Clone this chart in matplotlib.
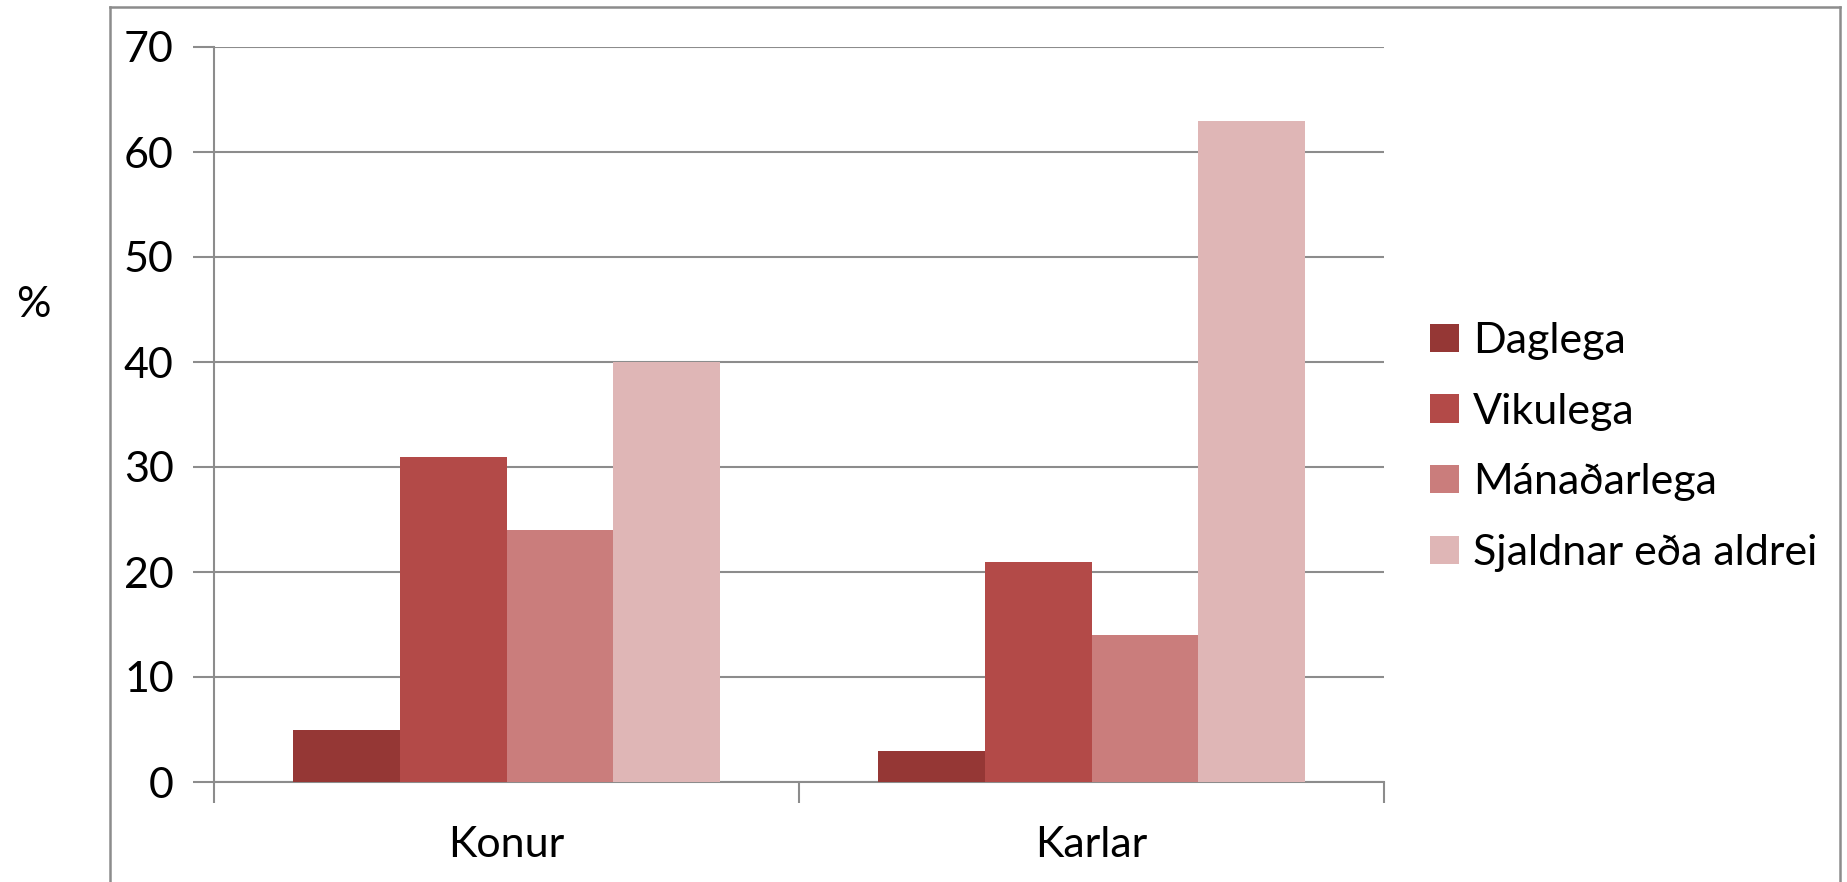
import matplotlib
matplotlib.use("Agg")
import matplotlib.pyplot as plt
from matplotlib.patches import Patch
from matplotlib.lines import Line2D
import numpy as np

categories = ["Konur", "Karlar"]
series_names = ["Daglega", "Vikulega", "Mánaðarlega", "Sjaldnar eða aldrei"]
daglega = [5, 3]
vikulega = [31, 21]
manadarlega = [24, 14]
sjaldnar = [40, 63]
yticks = [0, 10, 20, 30, 40, 50, 60, 70]
colors = ["#953735", "#B34A48", "#CA7D7C", "#DFB6B6"]

plt.rcParams['font.family'] = ['Lato', 'DejaVu Sans']
FS = 31

fig = plt.figure(figsize=(18.47, 8.82), dpi=100)
ax = fig.add_axes([214/1847, 1-782/882, (1384-214)/1847, (782-47)/882])

x = np.arange(len(categories))
bw = 0.1825
values = [daglega, vikulega, manadarlega, sjaldnar]
for i, (vals, c) in enumerate(zip(values, colors)):
    ax.bar(x + (i - 1.5) * bw, vals, width=bw, color=c, zorder=3, linewidth=0)

ax.set_xlim(-0.5, 1.5)
ax.set_ylim(0, 70)
ax.set_yticks(yticks)
ax.set_yticklabels([str(t) for t in yticks], fontsize=FS)
ax.yaxis.grid(True, color="#8c8c8c", linewidth=1.5, zorder=0)
ax.set_axisbelow(True)

ax.set_xticks([-0.5, 0.5, 1.5])
ax.set_xticklabels([])
ax.set_xticks(x, minor=True)
ax.set_xticklabels(categories, minor=True, fontsize=FS)
ax.tick_params(axis='x', which='minor', length=0, pad=32)
ax.tick_params(axis='x', which='major', length=15, width=1.5, color="#8c8c8c", direction='out')
ax.tick_params(axis='y', length=15, width=1.5, color="#8c8c8c", direction='out', pad=14)

for s in ['top', 'right']:
    ax.spines[s].set_visible(False)
for s in ['left', 'bottom']:
    ax.spines[s].set_color("#8c8c8c")
    ax.spines[s].set_linewidth(1.5)

fig.text(33/1847, 1-305/882, "%", fontsize=FS, ha='center', va='center')

handles = [Patch(facecolor=c, edgecolor='none') for c in colors]
fig.legend(handles, series_names, loc='center left',
           bbox_to_anchor=(1430/1847, 1-447/882), frameon=False, fontsize=FS,
           handlelength=0.67, handleheight=0.63, handletextpad=0.33,
           labelspacing=0.76, borderpad=0, borderaxespad=0)

# outer frame
fc = "#8c8c8c"
L, R, T = 110/1847, 1840/1847, 1-7/882
fig.add_artist(Line2D([L, L], [-0.01, T], color=fc, linewidth=1.8, transform=fig.transFigure))
fig.add_artist(Line2D([L, R], [T, T], color=fc, linewidth=1.8, transform=fig.transFigure))
fig.add_artist(Line2D([R, R], [-0.01, T], color=fc, linewidth=1.8, transform=fig.transFigure))

fig.savefig("out.png", dpi=100)
